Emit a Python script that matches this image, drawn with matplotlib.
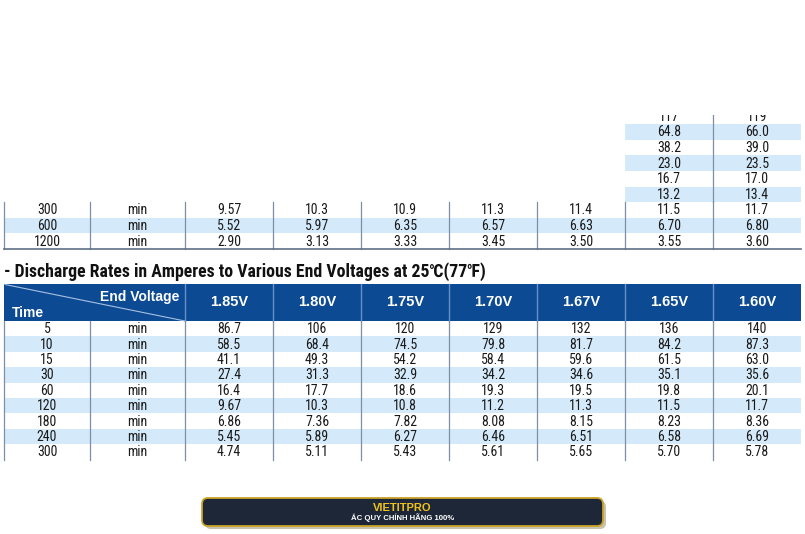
import matplotlib
matplotlib.use("Agg")
from matplotlib import pyplot as plt
from matplotlib.patches import Rectangle, FancyBboxPatch

# Data
voltages = ['1.85V', '1.80V', '1.75V', '1.70V', '1.67V', '1.65V', '1.60V']

# upper table: only the last two columns of these rows are visible
upper_165 = ['117', '64.8', '38.2', '23.0', '16.7', '13.2']
upper_160 = ['119', '66.0', '39.0', '23.5', '17.0', '13.4']
upper_times = ['300', '600', '1200']
upper_values = [
    ['9.57', '10.3', '10.9', '11.3', '11.4', '11.5', '11.7'],
    ['5.52', '5.97', '6.35', '6.57', '6.63', '6.70', '6.80'],
    ['2.90', '3.13', '3.33', '3.45', '3.50', '3.55', '3.60'],
]

title = '- Discharge Rates in Amperes to Various End Voltages at 25\u2103(77\u2109)'
lower_times = ['5', '10', '15', '30', '60', '120', '180', '240', '300']
lower_values = [
    ['86.7', '106', '120', '129', '132', '136', '140'],
    ['58.5', '68.4', '74.5', '79.8', '81.7', '84.2', '87.3'],
    ['41.1', '49.3', '54.2', '58.4', '59.6', '61.5', '63.0'],
    ['27.4', '31.3', '32.9', '34.2', '34.6', '35.1', '35.6'],
    ['16.4', '17.7', '18.6', '19.3', '19.5', '19.8', '20.1'],
    ['9.67', '10.3', '10.8', '11.2', '11.3', '11.5', '11.7'],
    ['6.86', '7.36', '7.82', '8.08', '8.15', '8.23', '8.36'],
    ['5.45', '5.89', '6.27', '6.46', '6.51', '6.58', '6.69'],
    ['4.74', '5.11', '5.43', '5.61', '5.65', '5.70', '5.78'],
]
unit = 'min'

# layout (pixel coordinates)
col_edges = [4, 90, 185, 273, 361, 449, 537, 625, 713, 801]
shade = '#d4eafa'
grid = '#7d8ea6'
head_blue = '#0c4a93'
narrow = ['Liberation Sans Narrow', 'Roboto Condensed', 'DejaVu Sans Condensed',
          'Liberation Sans', 'DejaVu Sans']
bold_font = ['Liberation Sans', 'DejaVu Sans']

fig = plt.figure(figsize=(8.05, 5.34), dpi=100)
ax = fig.add_axes([0, 0, 1, 1])
ax.set_xlim(0, 805)
ax.set_ylim(534, 0)
ax.axis('off')


def centre(c):
    return (col_edges[c] + col_edges[c + 1]) / 2


def cell_text(c, y, s):
    ax.text(centre(c), y, s, ha='center', va='center', fontsize=10,
            family=narrow, fontstretch='condensed', color='#1a1a1a')


# ---- upper table ----
row_h = 15.6
n_up = len(upper_165) + len(upper_times)
up_y0 = 249 - n_up * row_h
for i in range(n_up):
    y = up_y0 + i * row_h
    full = i >= len(upper_165)
    if i % 2 == 1:
        x0 = col_edges[0] if full else col_edges[7]
        ax.add_patch(Rectangle((x0, y), col_edges[-1] - x0, row_h,
                               color=shade, lw=0))
    yc = y + row_h / 2 + 0.5
    if full:
        k = i - len(upper_165)
        cell_text(0, yc, upper_times[k])
        cell_text(1, yc, unit)
        for j, v in enumerate(upper_values[k]):
            cell_text(j + 2, yc, v)
    else:
        cell_text(7, yc, upper_165[i])
        cell_text(8, yc, upper_160[i])

full_top = up_y0 + len(upper_165) * row_h
for x in col_edges[:-1]:
    ax.plot([x, x], [full_top, 249], color=grid, lw=0.9)
ax.plot([col_edges[8]] * 2, [up_y0, full_top], color=grid, lw=0.9)
ax.plot([col_edges[0], col_edges[-1]], [249, 249], color='#5f6f86', lw=1.2)
# top of the image is cut off
ax.add_patch(Rectangle((0, 0), 805, 114.5, color='white', lw=0, zorder=5))

# ---- title ----
ax.text(4, 272, title, ha='left', va='center', fontsize=12.8,
        fontweight='bold', family=narrow, fontstretch='condensed', color='#111111')

# ---- lower table header ----
h_top, h_bot = 283.5, 321
ax.add_patch(Rectangle((col_edges[0], h_top), col_edges[-1] - col_edges[0],
                       h_bot - h_top, color=head_blue, lw=0))
for x in col_edges[2:-1]:
    ax.plot([x, x], [h_top, h_bot], color='#6a91c8', lw=1.0)
ax.plot([col_edges[0] + 1, col_edges[2]], [h_top + 1, h_bot], color='#a7c0e2', lw=0.8)
ax.text(col_edges[2] - 6, 297, 'End Voltage', ha='right', va='center',
        fontsize=10, fontweight='bold', family=bold_font, color='white')
ax.text(12, 313, 'Time', ha='left', va='center', fontsize=10,
        fontweight='bold', family=bold_font, color='white')
for j, v in enumerate(voltages):
    ax.text(centre(j + 2), 302.5, v, ha='center', va='center', fontsize=10.5,
            fontweight='bold', family=bold_font, color='white')

# ---- lower table body ----
row_h2 = 15.4
for i, t in enumerate(lower_times):
    y = h_bot + i * row_h2
    if i % 2 == 1:
        ax.add_patch(Rectangle((col_edges[0], y), col_edges[-1] - col_edges[0],
                               row_h2, color=shade, lw=0))
    yc = y + row_h2 / 2 + 0.5
    cell_text(0, yc, t)
    cell_text(1, yc, unit)
    for j, v in enumerate(lower_values[i]):
        cell_text(j + 2, yc, v)
body_bot = h_bot + len(lower_times) * row_h2
for x in col_edges[:-1]:
    ax.plot([x, x], [h_bot, body_bot], color=grid, lw=0.9)

# ---- banner ----
shadow = FancyBboxPatch((205, 501), 401, 28, boxstyle='round,pad=0,rounding_size=6',
                        fc='#c9c2a8', ec='none', zorder=6)
ax.add_patch(shadow)
box = FancyBboxPatch((202, 498), 401, 28, boxstyle='round,pad=0,rounding_size=6',
                     fc='#1e2738', ec='#c9a227', lw=1.3, zorder=7)
ax.add_patch(box)
ax.text(402.5, 508, 'VIETITPRO', ha='center', va='center', fontsize=8,
        fontweight='bold', family=bold_font, color='#f2c21b', zorder=8)
ax.text(402.5, 518, '\u1eaeC QUY CH\u00cdNH H\u00c3NG 100%', ha='center', va='center',
        fontsize=5.6, fontweight='bold', family=bold_font, color='white', zorder=8)

plt.savefig('out.png', dpi=100)
